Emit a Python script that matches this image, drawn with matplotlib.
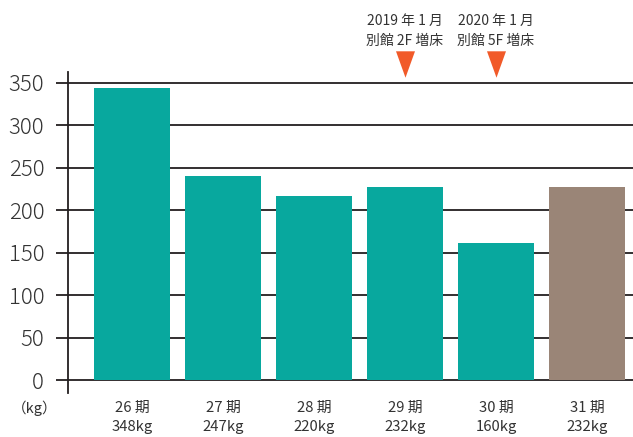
import matplotlib.pyplot as plt
from matplotlib.path import Path

plt.rcParams['font.family'] = ['Noto Sans CJK JP', 'DejaVu Sans']

# Data
periods = ['26 期', '27 期', '28 期', '29 期', '30 期', '31 期']
weight_labels = ['348kg', '247kg', '220kg', '232kg', '160kg', '232kg']
bar_heights = [344, 240, 217, 227, 161, 227]
bar_colors = ['#08a89e'] * 5 + ['#9a8577']
y_ticks = [0, 50, 100, 150, 200, 250, 300, 350]

# Expansion events marked above the bars
event_index = [3, 4]
event_text = ['2019 年 1 月\n別館 2F 増床', '2020 年 1 月\n別館 5F 増床']

text_color = '#333333'
grid_color = '#231f20'

fig = plt.figure(figsize=(6.33, 4.37), dpi=100)
ax = fig.add_axes([0.1074, 0.1007, 0.8926, 0.7346])

x = list(range(len(periods)))
ax.bar(x, bar_heights, width=0.835, color=bar_colors, zorder=2)

ax.set_xlim(-0.703, 5.505)
ax.set_ylim(-15.3, 362.9)
ax.set_yticks(y_ticks)
ax.yaxis.grid(True, color=grid_color, linewidth=1.3, zorder=0)
ax.set_axisbelow(True)

for side in ['top', 'right', 'bottom']:
    ax.spines[side].set_visible(False)
ax.spines['left'].set_color(grid_color)
ax.spines['left'].set_linewidth(1.3)

ax.tick_params(axis='y', direction='out', length=8.6, width=1.3, color=grid_color,
               pad=8.5, labelsize=16, labelcolor=text_color)
for lbl in ax.get_yticklabels():
    lbl.set_fontweight('light')
ax.set_xticks(x)
ax.set_xticklabels([p + '\n' + w for p, w in zip(periods, weight_labels)],
                   fontsize=10.7, color=text_color, linespacing=1.45)
ax.tick_params(axis='x', length=0, pad=6)

fig.text(0.055, 0.066, '（kg）', fontsize=10.5, color=text_color,
         ha='center', va='center')

# tall, narrow downward triangle
tri = Path([(-0.36, 0.5), (0.36, 0.5), (0, -0.5), (-0.36, 0.5)],
           [Path.MOVETO, Path.LINETO, Path.LINETO, Path.CLOSEPOLY])
for i, txt in zip(event_index, event_text):
    ax.plot(i, 372, marker=tri, markersize=19, color='#f15a29',
            markeredgewidth=0, clip_on=False)
    ax.text(i, 411, txt, ha='center', va='center', fontsize=10,
            color=text_color, linespacing=1.5, clip_on=False)

fig.savefig('out.png', dpi=100)
